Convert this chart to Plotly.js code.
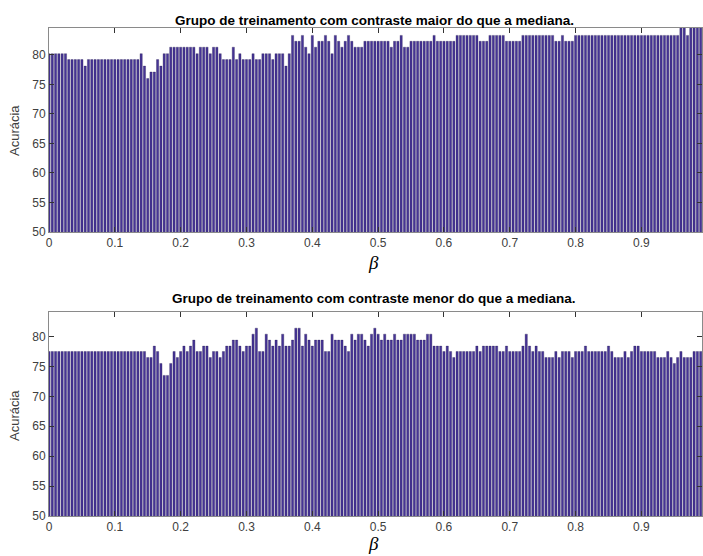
<!DOCTYPE html>
<html>
<head>
<meta charset="utf-8">
<script src="https://cdn.plot.ly/plotly-3.0.1.min.js"></script>
<style>html,body{margin:0;padding:0;background:#fff;}#chart{width:703px;height:556px;}</style>
</head>
<body>
<div id="chart"></div>
<script>
// beta grid: 0 to 0.99, step 0.005 (categories)
const betaStep = 0.005;
const betaCount = 199;
const beta = [];
for (let i = 0; i < betaCount; i++) beta.push(+(i * betaStep).toFixed(3));

// Accuracy (%) - training group with contrast above the median
const accMaior = [
  80.2,80.2,80.2,80.2,80.2,80.2,79.2,79.2,79.2,79.2,
  79.2,78.1,79.2,79.2,79.2,79.2,79.2,79.2,79.2,79.2,
  79.2,79.2,79.2,79.2,79.2,79.2,79.2,79.2,80.2,78.1,
  76.0,77.1,77.1,79.2,78.1,80.2,80.2,81.3,81.3,81.3,
  81.3,81.3,81.3,81.3,81.3,80.2,81.3,81.3,81.3,80.2,
  81.3,81.3,80.2,79.2,79.2,79.2,81.3,79.2,80.2,79.2,
  79.2,79.2,80.2,79.2,79.2,80.2,80.2,80.2,79.2,80.2,
  80.2,80.2,78.1,80.2,83.3,82.3,82.3,83.3,81.3,80.2,
  83.3,81.3,82.3,82.3,83.3,82.3,80.2,83.3,82.3,81.3,
  82.3,83.3,82.3,81.3,81.3,81.3,82.3,82.3,82.3,82.3,
  82.3,82.3,82.3,82.3,81.3,82.3,82.3,83.3,81.3,81.3,
  82.3,82.3,82.3,82.3,82.3,82.3,82.3,83.3,82.3,82.3,
  82.3,82.3,82.3,82.3,83.3,83.3,83.3,83.3,83.3,83.3,
  83.3,82.3,82.3,82.3,83.3,83.3,83.3,83.3,83.3,82.3,
  82.3,82.3,82.3,82.3,83.3,83.3,83.3,83.3,83.3,83.3,
  83.3,83.3,83.3,83.3,82.3,82.3,83.3,82.3,82.3,82.3,
  83.3,83.3,83.3,83.3,83.3,83.3,83.3,83.3,83.3,83.3,
  83.3,83.3,83.3,83.3,83.3,83.3,83.3,83.3,83.3,83.3,
  83.3,83.3,83.3,83.3,83.3,83.3,83.3,83.3,83.3,83.3,
  83.3,83.3,85.4,85.4,83.3,85.4,85.4,85.4,85.4
];

// Accuracy (%) - training group with contrast below the median
const accMenor = [
  77.5,77.5,77.5,77.5,77.5,77.5,77.5,77.5,77.5,77.5,
  77.5,77.5,77.5,77.5,77.5,77.5,77.5,77.5,77.5,77.5,
  77.5,77.5,77.5,77.5,77.5,77.5,77.5,77.5,77.5,77.5,
  76.5,76.5,78.4,77.5,75.5,73.5,73.5,75.5,77.5,76.5,
  77.5,78.4,77.5,78.4,79.4,77.5,77.5,78.4,78.4,76.5,
  77.5,77.5,76.5,77.5,78.4,78.4,79.4,79.4,78.4,77.5,
  78.4,78.4,80.4,81.4,77.5,77.5,80.4,79.4,78.4,79.4,
  78.4,80.4,78.4,78.4,79.4,81.4,81.4,78.4,80.4,79.4,
  78.4,79.4,79.4,79.4,77.5,77.5,80.4,79.4,79.4,79.4,
  78.4,77.5,80.4,79.4,80.4,80.4,79.4,78.4,80.4,81.4,
  80.4,79.4,80.4,79.4,79.4,80.4,79.4,79.4,80.4,80.4,
  80.4,80.4,79.4,79.4,79.4,80.4,80.4,78.4,78.4,78.4,
  77.5,78.4,77.5,76.5,77.5,77.5,77.5,77.5,77.5,77.5,
  78.4,77.5,78.4,78.4,78.4,78.4,78.4,77.5,77.5,78.4,
  77.5,77.5,77.5,77.5,78.4,80.4,78.4,77.5,78.4,77.5,
  77.5,76.5,76.5,76.5,77.5,76.5,77.5,77.5,77.5,76.5,
  77.5,77.5,77.5,78.4,77.5,77.5,77.5,77.5,77.5,77.5,
  78.4,77.5,76.5,76.5,76.5,77.5,76.5,77.5,78.4,78.4,
  77.5,77.5,77.5,77.5,77.5,76.5,76.5,76.5,77.5,76.5,
  75.5,76.5,77.5,76.5,76.5,76.5,77.5,77.5,77.5
];

const titleMaior = 'Grupo de treinamento com contraste maior do que a mediana.';
const titleMenor = 'Grupo de treinamento com contraste menor do que a mediana.';
const yTickVals = [50, 55, 60, 65, 70, 75, 80];
const xTickVals = [0, 0.1, 0.2, 0.3, 0.4, 0.5, 0.6, 0.7, 0.8, 0.9];
const xTickText = ['0', '0.1', '0.2', '0.3', '0.4', '0.5', '0.6', '0.7', '0.8', '0.9'];

const W = 703, H = 556;
const barColor = 'rgb(70,52,150)';
const barEdge = 'rgb(30,22,70)';

function barTrace(y, xa, ya) {
  return {
    type: 'bar', x: beta, y: y, xaxis: xa, yaxis: ya,
    marker: { color: barColor, line: { color: barEdge, width: 0.3 } },
    hoverinfo: 'x+y', showlegend: false
  };
}

const tickFont = { family: 'Liberation Sans, Arial, sans-serif', size: 12, color: '#404040' };
function xAxis(anchor) {
  return {
    domain: [49 / W, 702 / W], range: [0, 0.992], anchor: anchor,
    tickmode: 'array', tickvals: xTickVals, ticktext: xTickText,
    ticks: 'inside', ticklen: 5, tickcolor: '#333', tickwidth: 1,
    showline: true, linecolor: '#8a8a8a', linewidth: 1, mirror: 'ticks',
    showgrid: false, zeroline: false, tickfont: tickFont, automargin: false
  };
}
function yAxis(anchor, d0, d1, top) {
  return {
    domain: [1 - d1 / H, 1 - d0 / H], range: [50, top], anchor: anchor,
    tickmode: 'array', tickvals: yTickVals,
    ticks: 'inside', ticklen: 5, tickcolor: '#333', tickwidth: 1,
    showline: true, linecolor: '#8a8a8a', linewidth: 1, mirror: 'ticks',
    showgrid: false, zeroline: false, tickfont: tickFont, automargin: false
  };
}

const titleFont = { family: 'Liberation Sans, Arial, sans-serif', size: 13.5, color: '#000' };
const labFont = { family: 'Liberation Sans, Arial, sans-serif', size: 13, color: '#404040' };
const betaFont = { family: '"Liberation Serif", "Times New Roman", serif', size: 19, color: '#000' };

const layout = {
  width: W, height: H,
  margin: { l: 0, r: 0, t: 0, b: 0 },
  paper_bgcolor: '#fff', plot_bgcolor: '#fff',
  bargap: 0.32,
  xaxis: xAxis('y'),
  yaxis: yAxis('x', 28, 232, 84.55),
  xaxis2: xAxis('y2'),
  yaxis2: yAxis('x2', 312, 516, 84.1),
  annotations: [
    { text: '<b>' + titleMaior + '</b>', xref: 'paper', yref: 'paper', x: 374 / W, y: 1 - 20 / H, xanchor: 'center', yanchor: 'middle', showarrow: false, font: titleFont },
    { text: '<b>' + titleMenor + '</b>', xref: 'paper', yref: 'paper', x: 374 / W, y: 1 - 298 / H, xanchor: 'center', yanchor: 'middle', showarrow: false, font: titleFont },
    { text: 'Acurácia', xref: 'paper', yref: 'paper', x: 14 / W, y: 1 - 131 / H, xanchor: 'center', yanchor: 'middle', textangle: -90, showarrow: false, font: labFont },
    { text: 'Acurácia', xref: 'paper', yref: 'paper', x: 14 / W, y: 1 - 416 / H, xanchor: 'center', yanchor: 'middle', textangle: -90, showarrow: false, font: labFont },
    { text: '<i>β</i>', xref: 'paper', yref: 'paper', x: 373 / W, y: 1 - 262 / H, xanchor: 'center', yanchor: 'middle', showarrow: false, font: betaFont },
    { text: '<i>β</i>', xref: 'paper', yref: 'paper', x: 373 / W, y: 1 - 543 / H, xanchor: 'center', yanchor: 'middle', showarrow: false, font: betaFont }
  ]
};

Plotly.newPlot('chart', [barTrace(accMaior, 'x', 'y'), barTrace(accMenor, 'x2', 'y2')], layout, { displayModeBar: false, staticPlot: true });
</script>
</body>
</html>
